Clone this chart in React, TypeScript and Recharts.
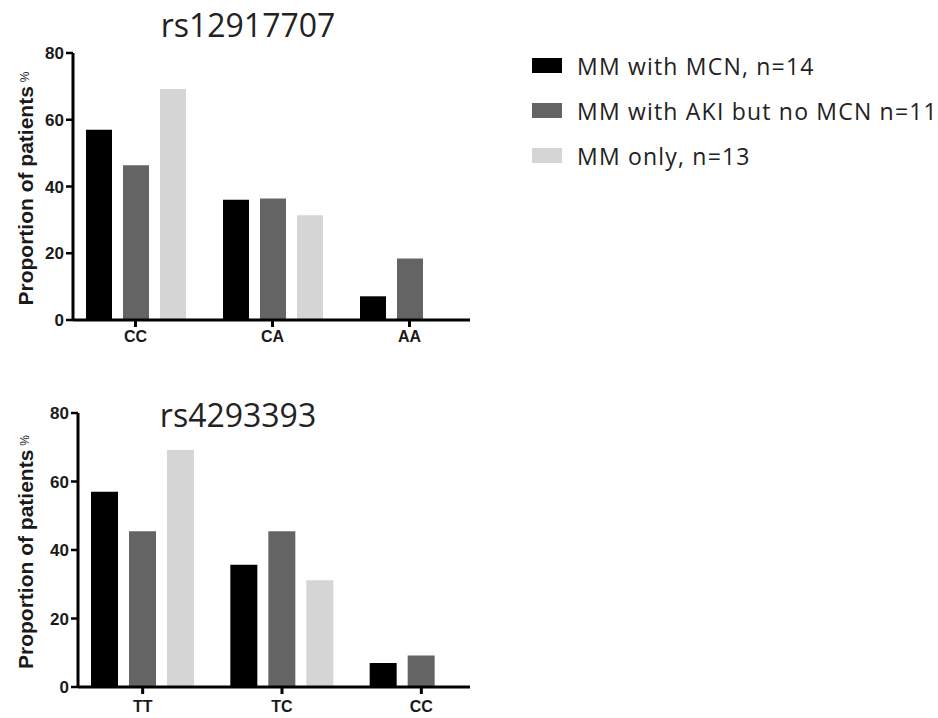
import React from 'react';
import { BarChart, Bar, XAxis, YAxis } from 'recharts';

const seriesNames = ['MM with MCN, n=14', 'MM with AKI but no MCN n=11', 'MM only, n=13'];
const seriesColors = ['#000000', '#646464', '#d5d5d5'];
const yTicks = [0, 20, 40, 60, 80];

const snp1Title = 'rs12917707';
const snp1Genotypes = ['CC', 'CA', 'AA'];
const snp1MCN = [57.0, 36.0, 7.1];
const snp1AKI = [46.4, 36.4, 18.4];
const snp1Only = [69.2, 31.4, 0];

const snp2Title = 'rs4293393';
const snp2Genotypes = ['TT', 'TC', 'CC'];
const snp2MCN = [57.0, 35.7, 7.0];
const snp2AKI = [45.5, 45.5, 9.2];
const snp2Only = [69.2, 31.2, 0];

const build = (g: string[], a: number[], b: number[], c: number[]) =>
  g.map((name, i) => ({ g: name, s0: a[i], s1: b[i], s2: c[i] }));

const data1 = build(snp1Genotypes, snp1MCN, snp1AKI, snp1Only);
const data2 = build(snp2Genotypes, snp2MCN, snp2AKI, snp2Only);

const tickFont = { fill: '#1a1a1a', fontSize: 17, fontWeight: 700, fontFamily: '"Liberation Sans", Arial, sans-serif' };

const YLabel = (props: any) => {
  const vb = props.viewBox || {};
  const cx = (vb.x || 0) + 25;
  const cy = (vb.y || 0) + (vb.height || 0) / 2 + 2;
  return (
    <text
      x={cx}
      y={cy}
      transform={`rotate(-90, ${cx}, ${cy})`}
      textAnchor="middle"
      dominantBaseline="central"
      fill="#1a1a1a"
      fontFamily='"Liberation Sans", Arial, sans-serif'
      fontWeight={700}
      fontSize={21}
    >
      Proportion of patients
      <tspan fontSize={12} fontWeight={400} dx={4}>%</tspan>
    </text>
  );
};

function Panel(props: {
  data: any[];
  height: number;
  yWidth: number;
  xHeight: number;
  pad: { left: number; right: number };
  barSize: number;
  barGap: number;
  tickMargin: number;
}) {
  const { data, height, yWidth, xHeight, pad, barSize, barGap, tickMargin } = props;
  return (
    <BarChart
      width={490}
      height={height}
      data={data}
      margin={{ top: 53, right: 20, bottom: 0, left: 0 }}
      barGap={barGap}
      barSize={barSize}
    >
      <XAxis
        dataKey="g"
        height={xHeight}
        padding={pad}
        axisLine={{ stroke: '#000', strokeWidth: 3 }}
        tickLine={{ stroke: '#000', strokeWidth: 3 }}
        tickSize={7}
        tickMargin={tickMargin}
        tick={{ ...tickFont, fontSize: 16 }}
        interval={0}
      />
      <YAxis
        type="number"
        domain={[0, 80]}
        ticks={yTicks}
        width={yWidth}
        axisLine={{ stroke: '#000', strokeWidth: 3 }}
        tickLine={{ stroke: '#000', strokeWidth: 2.5 }}
        tickSize={7}
        tickMargin={2}
        tick={tickFont}
        label={<YLabel />}
      />
      <Bar dataKey="s0" name={seriesNames[0]} fill={seriesColors[0]} isAnimationActive={false} />
      <Bar dataKey="s1" name={seriesNames[1]} fill={seriesColors[1]} isAnimationActive={false} />
      <Bar dataKey="s2" name={seriesNames[2]} fill={seriesColors[2]} isAnimationActive={false} />
    </BarChart>
  );
}

const titleStyle: React.CSSProperties = {
  fontFamily: '"Open Sans", sans-serif',
  fontSize: 32,
  fill: '#222',
};

export default function App() {
  return (
    <div style={{ position: 'relative', width: 938, height: 718, background: '#fff', overflow: 'hidden' }}>
      <style>{`body{margin:0;background:#fff}`}</style>
      <div style={{ position: 'absolute', left: 0, top: 0 }}>
        <Panel
          data={data1}
          height={350}
          yWidth={73}
          xHeight={30}
          pad={{ left: -6, right: -8 }}
          barSize={26}
          barGap={11}
          tickMargin={4}
        />
      </div>
      <div style={{ position: 'absolute', left: 0, top: 360 }}>
        <Panel
          data={data2}
          height={358}
          yWidth={78}
          xHeight={31}
          pad={{ left: -5, right: -21 }}
          barSize={27}
          barGap={11}
          tickMargin={7}
        />
      </div>
      <div
        style={{
          position: 'absolute',
          left: 532,
          top: 43,
          fontFamily: '"Open Sans", sans-serif',
          fontSize: 23,
          letterSpacing: 1.2,
          color: '#222',
        }}
      >
        {seriesNames.map((n, i) => (
          <div key={n} style={{ display: 'flex', alignItems: 'center', height: 45 }}>
            <div style={{ width: 30, height: 15, background: seriesColors[i], marginRight: 15, flex: 'none' }} />
            <span style={{ whiteSpace: 'nowrap' }}>{n}</span>
          </div>
        ))}
      </div>
      <svg width={938} height={718} style={{ position: 'absolute', left: 0, top: 0, pointerEvents: 'none' }}>
        <text x={248} y={37} textAnchor="middle" style={titleStyle}>{snp1Title}</text>
        <text x={238} y={427} textAnchor="middle" style={titleStyle}>{snp2Title}</text>
      </svg>
    </div>
  );
}
